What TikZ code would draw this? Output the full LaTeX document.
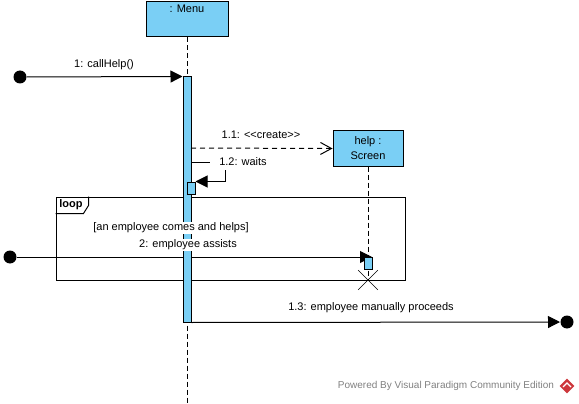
\documentclass[tikz,border=0pt]{standalone}
\usepackage{fontspec}
\setmainfont{Liberation Sans}
\usetikzlibrary{arrows.meta,positioning,shapes.misc,shapes.geometric}
\definecolor{vpblue}{RGB}{122,207,245}
\definecolor{vpgray}{RGB}{128,128,128}
\definecolor{vpred}{RGB}{205,55,60}

\begin{document}
\begin{tikzpicture}[x=1pt,y=-1pt,line width=1pt,
        font=\fontsize{11}{15}\selectfont,
        >={Triangle[length=12pt,width=12pt]},
        obj/.style={draw,fill=vpblue,minimum height=35pt,align=center},
        actbar/.style={draw,fill=vpblue,minimum width=8pt,inner sep=0pt},
        life/.style={dash pattern=on 5pt off 3pt},
        lbl/.style={fill=white,inner sep=1pt},
        endpt/.style={circle,fill=black,minimum size=13pt,inner sep=0pt}]
        \useasboundingbox(0,0)rectangle(579,404);
        % lifelines
        \node[obj,minimum width=82pt](menu)at(187,19.5){};
        \node[below=2pt of menu.north,inner sep=1pt](menulbl){: Menu};
        \node[obj,minimum width=70pt](screen)at(368,148.5){help :\\Screen};
        \node[draw,cross out,minimum size=19pt,line width=0.7pt](kill)at(368,280){};
        \coordinate(menuend)at(187,404);
        \draw[life](menu)--(menuend);
        \draw[life](screen)--(kill.center);
        % loop frame
        \node[draw,minimum width=349pt,minimum height=83pt,inner sep=0pt](frame)at(230.5,238.5){};
        \draw(frame.north west)++(0,17)--++(28,0)--++(5,-8)--++(0,-9);
        \node[font=\fontsize{11}{13}\selectfont\bfseries](looplbl)at(71,205){loop};
        % message 2
        \node[endpt](start2)at(10,257){};
        \draw[->](start2)--(372,257);
        % activations
        \node[actbar,minimum height=245pt](actA)at(187,199.5){};
        \node[actbar,minimum height=12pt](actB)at(191,188){};
        \node[actbar,minimum height=12pt](actC)at(368,263){};
        \node[lbl](guard)at(171,228){[an employee comes and helps]};
        \node[lbl](m2)at(188,245){2: employee assists};
        % message 1
        \node[endpt](start1)at(20,77){};
        \draw[->](start1)--(actA.north west);
        \node(m1)at(104,65){1: callHelp()};
        % message 1.1
        \coordinate(c11)at(191,148);
        \draw[dash pattern=on 5pt off 4pt,-{Straight Barb[length=11pt,width=12pt]}](c11)--(screen.west);
        \node(m11)at(261,135){1.1: {<}{<}create{>}{>}};
        % message 1.2
        \coordinate(c12)at(191,162);
        \draw[->](c12)--++(34,0)|-(actB.north east);
        \node[lbl,inner xsep=9pt,inner ysep=4pt](m12)at(243,162){1.2: waits};
        % message 1.3
        \node[endpt](end13)at(567,322){};
        \draw[->](actA.south east)--(end13);
        \node(m13)at(371,308){1.3: employee manually proceeds};
        % footer
        \node[text=vpgray,font=\fontsize{10}{12}\selectfont](powered)at(446,386){Powered By Visual Paradigm Community Edition};
        \node[diamond,fill=vpred,minimum size=15pt,inner sep=0pt](logo)at(567,386){};
        \draw[white,line width=1.2pt](logo.west)++(4,1)--++(4,-4)--++(4,4);
\end{tikzpicture}
\end{document}
